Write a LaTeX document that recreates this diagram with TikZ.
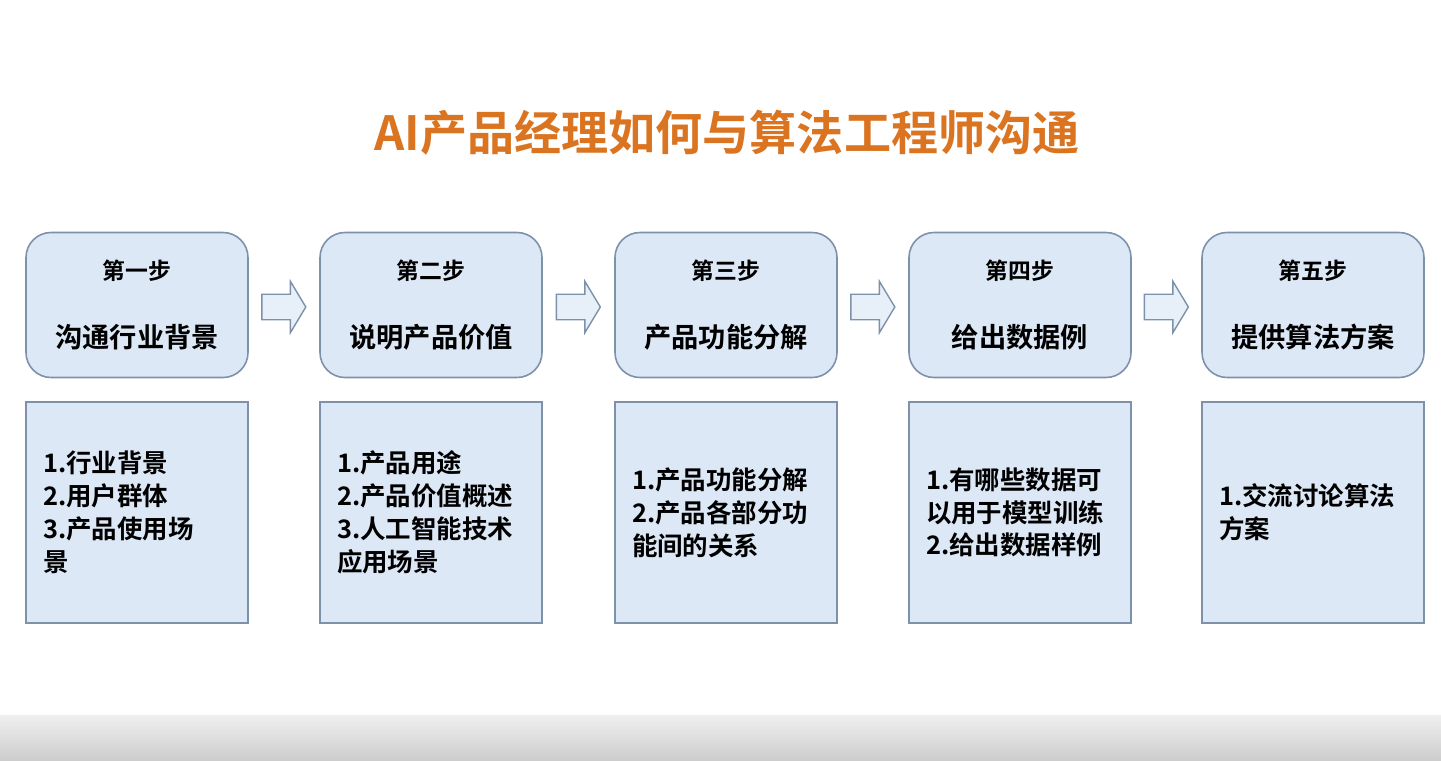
\documentclass[tikz,border=0pt]{standalone}
\usepackage{fontspec}
\usepackage{xcolor}
\usetikzlibrary{arrows.meta, calc, positioning, shapes.arrows}
\newfontfamily\cjk{Noto Sans CJK SC}[BoldFont=Noto Sans CJK SC Bold]

\definecolor{boxfill}{HTML}{DDE8F6}
\definecolor{boxline}{HTML}{7D91AB}
\definecolor{titleorange}{HTML}{DB7420}

\tikzset{
  stepbox/.style={draw=boxline, fill=boxfill, line width=0.9pt, rounded corners=0.5cm,
    minimum width=4.44cm, minimum height=2.9cm, align=center, font=\cjk\bfseries},
  detailbox/.style={draw=boxline, fill=boxfill, line width=0.7pt,
    minimum width=4.44cm, minimum height=4.42cm, inner xsep=0.34cm,
    text width=3.76cm, align=left, font=\cjk\bfseries\fontsize{14.5pt}{18.7pt}\selectfont},
  flowarrow/.style={single arrow, draw=boxline, fill=boxfill!70, line width=0.8pt,
    minimum height=0.88cm, inner xsep=0pt, inner ysep=0.24cm,
    single arrow head extend=0.26cm, single arrow tip angle=118}
}
\newcommand{\steptext}[2]{{\fontsize{13pt}{15pt}\selectfont #1}\\[23pt]{\fontsize{15.5pt}{18pt}\selectfont #2}}

\begin{document}
\begin{tikzpicture}[line width=1pt]
        \useasboundingbox (0,0) rectangle (28.82,-15.22);
        \fill[white] (0,0) rectangle (28.82,-15.22);
        \shade[top color=gray!12, bottom color=gray!40] (0,-14.3) rectangle (28.82,-15.22);

        % title
        \node[font=\cjk\bfseries\fontsize{26.8pt}{32pt}\selectfont, text=titleorange] (title) at (14.54,-2.66) {AI产品经理如何与算法工程师沟通};

        % steps
        \node[stepbox] (s1) at (2.74,-6.10) {\steptext{第一步}{沟通行业背景}};
        \node[stepbox] (s2) at (8.62,-6.10) {\steptext{第二步}{说明产品价值}};
        \node[stepbox] (s3) at (14.52,-6.10) {\steptext{第三步}{产品功能分解}};
        \node[stepbox] (s4) at (20.40,-6.10) {\steptext{第四步}{给出数据例}};
        \node[stepbox] (s5) at (26.26,-6.10) {\steptext{第五步}{提供算法方案}};

        % arrows between steps
        \node[flowarrow] (a1) at ($(s1.east)!0.5!(s2.west)+(-0.08,-0.04)$) {};
        \node[flowarrow] (a2) at ($(s2.east)!0.5!(s3.west)+(-0.08,-0.04)$) {};
        \node[flowarrow] (a3) at ($(s3.east)!0.5!(s4.west)+(-0.08,-0.04)$) {};
        \node[flowarrow] (a4) at ($(s4.east)!0.5!(s5.west)+(-0.08,-0.04)$) {};

        % details
        \node[detailbox, below=0.46cm of s1] (d1) {1.行业背景\\2.用户群体\\3.产品使用场\\景};
        \node[detailbox, below=0.46cm of s2] (d2) {1.产品用途\\2.产品价值概述\\3.人工智能技术\\应用场景};
        \node[detailbox, below=0.46cm of s3] (d3) {1.产品功能分解\\2.产品各部分功\\能间的关系};
        \node[detailbox, below=0.46cm of s4] (d4) {1.有哪些数据可\\以用于模型训练\\2.给出数据样例};
        \node[detailbox, below=0.46cm of s5] (d5) {1.交流讨论算法\\方案};
    \end{tikzpicture}
\end{document}
